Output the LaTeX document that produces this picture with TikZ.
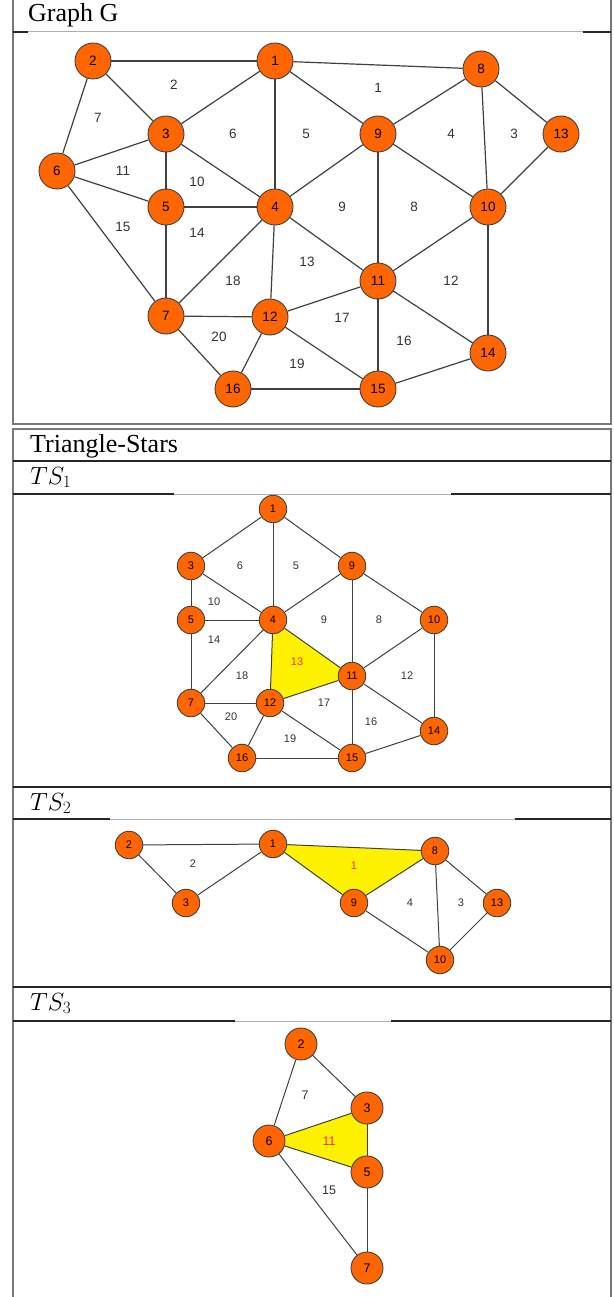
\documentclass[tikz,border=0pt]{standalone}
\usepackage{fontspec}
\setmainfont{Liberation Serif}
\newfontfamily\nodefont{Liberation Sans}
\usetikzlibrary{backgrounds}
\definecolor{vtxorange}{RGB}{255,102,0}
\definecolor{edgegrey}{RGB}{64,64,64}
\definecolor{facered}{RGB}{255,40,90}
\definecolor{rulegrey}{RGB}{120,120,120}
\definecolor{lightrule}{RGB}{175,175,175}
\definecolor{triyellow}{RGB}{255,242,0}

\tikzset{
  vtx/.style={circle, draw=black!75, fill=vtxorange, line width=0.9pt, inner sep=0pt,
    minimum size=36pt, font=\nodefont\fontsize{13.5}{13.5}\selectfont},
  svtx/.style={vtx, minimum size=27.5pt, font=\nodefont\fontsize{11}{11}\selectfont},
  mvtx/.style={vtx, minimum size=32pt, font=\nodefont\fontsize{12.5}{12.5}\selectfont},
  face/.style={text=black!80, inner sep=0pt, font=\nodefont\fontsize{13.5}{13.5}\selectfont},
  sface/.style={face, font=\nodefont\fontsize{11}{11}\selectfont},
  mface/.style={face, font=\nodefont\fontsize{12.5}{12.5}\selectfont},
  edge/.style={draw=edgegrey, line width=1.2pt},
  sedge/.style={draw=edgegrey, line width=1pt},
  hdr/.style={anchor=base west, inner sep=0pt, font=\fontsize{26}{30}\selectfont},
  rowline/.style={draw=black!85, line width=1.4pt},
  sideline/.style={draw=rulegrey, line width=2pt},
}

\begin{document}
\begin{tikzpicture}[x=1pt, y=-1pt]
    \useasboundingbox (0,0) rectangle (613,1297);

    %, Table frame ---
    \draw[sideline] (12.5,0) -- (12.5,423.5) -- (610.5,423.5) -- (610.5,0);
    \draw[lightrule, line width=1pt] (12.5,32) -- (610.5,32);
    \draw[rowline] (12.5,32) -- (28,32);
    \draw[rowline] (583,32) -- (610.5,32);
    \draw[sideline] (12.5,1297) -- (12.5,428.5) -- (610.5,428.5) -- (610.5,1297);
    \foreach \yy in {461,787,987}
        \draw[rowline] (12.5,\yy) -- (610.5,\yy);
    % rows below the headers, lighter in the middle
    \foreach \yy/\la/\lb in {494/174/451, 819/110/515, 1021/235/391} {
        \draw[rowline] (12.5,\yy) -- (\la,\yy);
        \draw[lightrule, line width=1pt] (\la,\yy) -- (\lb,\yy);
        \draw[rowline] (\lb,\yy) -- (610.5,\yy);
    }
    \node[hdr] (hG) at (28,22) {Graph G};
    \node[hdr] (hT) at (30,452) {Triangle-Stars};
    \node[hdr] (hA) at (30,484) {$TS_1$};
    \node[hdr] (hB) at (30,810) {$TS_2$};
    \node[hdr] (hC) at (30,1010) {$TS_3$};

    %, Graph G ---
    \foreach \n/\x/\y in {1/275/61, 2/93/61, 8/481/69, 3/166/134, 9/378/134, 13/561/134,
        6/57/171, 5/166/207, 4/275/207, 10/488/207, 11/378/281, 7/166/316,
        12/270/317, 14/488/353, 16/233/389, 15/378/389}
        \node[vtx] (g\n) at (\x,\y) {\n};
    \foreach \a/\b in {2/1, 1/8, 2/3, 2/6, 1/3, 1/4, 1/9, 8/9, 8/10, 8/13, 13/10,
        3/6, 3/5, 3/4, 6/5, 6/7, 5/4, 5/7, 9/4, 9/11, 9/10, 4/7, 4/12, 4/11,
        10/11, 10/14, 11/12, 11/15, 11/14, 7/12, 7/16, 12/16, 12/15, 16/15, 15/14}
        \draw[edge] (g\a) -- (g\b);
    \foreach \f/\x/\y in {2/174/85, 1/378/88, 7/98/118, 6/233/134, 5/306/134, 4/451/134,
        3/514/134, 11/123/171, 10/197/182, 9/342/207, 8/414/207, 15/123/227,
        14/197/233, 13/307/262, 18/233/281, 12/451/281, 17/342/318, 20/219/337,
        16/404/341, 19/297/364}
        \node[face] (gf\f) at (\x,\y) {\f};

    %, TS_1 ---
    \foreach \n/\x/\y in {1/273/509, 3/191/566, 9/352/566, 5/191/620, 4/273/620,
        10/434/620, 11/352/676, 7/191/703, 12/270/703, 14/434/731, 16/242/758, 15/352/758}
        \node[svtx] (a\n) at (\x,\y) {\n};
    \begin{scope}[on background layer]
        \fill[triyellow] (a4.center) -- (a11.center) -- (a12.center) -- cycle;
    \end{scope}
    \foreach \a/\b in {1/3, 1/4, 1/9, 3/5, 3/4, 9/4, 9/11, 9/10, 5/4, 5/7, 4/7, 4/12,
        4/11, 10/11, 10/14, 7/12, 7/16, 12/16, 12/11, 12/15, 11/15, 11/14, 16/15, 15/14}
        \draw[sedge] (a\a) -- (a\b);
    \foreach \f/\x/\y in {6/240/566, 5/296/566, 10/214/602, 9/324/620, 8/379/620,
        14/214/640, 18/242/676, 12/407/676, 17/324/703, 20/231/717, 16/371/722, 19/290/739}
        \node[sface] (af\f) at (\x,\y) {\f};
    \node[sface, text=facered] (af13) at (297,662) {13};

    %, TS_2 ---
    \foreach \n/\x/\y in {2/129/845, 1/273/844, 8/435/851, 3/186/903, 9/354/903,
        13/497/903, 10/440/960}
        \node[svtx] (b\n) at (\x,\y) {\n};
    \begin{scope}[on background layer]
        \fill[triyellow] (b1.center) -- (b8.center) -- (b9.center) -- cycle;
    \end{scope}
    \foreach \a/\b in {2/1, 2/3, 3/1, 1/8, 1/9, 9/8, 8/10, 8/13, 13/10, 9/10}
        \draw[sedge] (b\a) -- (b\b);
    \foreach \f/\x/\y in {2/193/864, 4/410/903, 3/461/903}
        \node[sface] (bf\f) at (\x,\y) {\f};
    \node[sface, text=facered] (bf1) at (354,866) {1};

    %, TS_3 ---
    \foreach \n/\x/\y in {2/301/1044, 3/367/1108, 6/269/1141, 5/367/1172, 7/367/1268}
        \node[mvtx] (c\n) at (\x,\y) {\n};
    \begin{scope}[on background layer]
        \fill[triyellow] (c6.center) -- (c3.center) -- (c5.center) -- cycle;
    \end{scope}
    \foreach \a/\b in {2/6, 2/3, 3/6, 3/5, 6/5, 6/7, 5/7}
        \draw[sedge] (c\a) -- (c\b);
    \foreach \f/\x/\y in {7/305/1095, 15/329/1190}
        \node[mface] (cf\f) at (\x,\y) {\f};
    \node[mface, text=facered] (cf11) at (329,1141) {11};
\end{tikzpicture}
\end{document}
